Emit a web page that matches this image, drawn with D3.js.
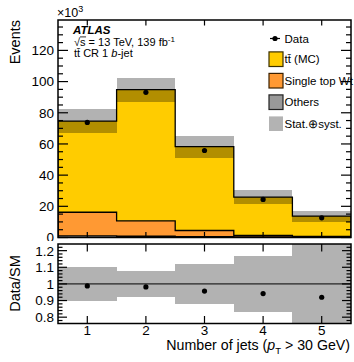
<!DOCTYPE html>
<html>
<head>
<meta charset="utf-8">
<script src="https://cdn.jsdelivr.net/npm/d3@7"></script>
<style>
  html, body { margin: 0; padding: 0; background: #fff; }
  svg { display: block; }
  text { font-family: "Liberation Sans", Arial, Helvetica, sans-serif; fill: #000; }
</style>
</head>
<body>
<svg id="chart" width="354" height="362"></svg>
<script>
// Jet multiplicity bins
const categories = [1, 2, 3, 4, 5];
// Stacked MC predictions (×10^3 events)
const others    = [1.0, 0.8, 0.6, 0.4, 0.3];
const singleTop = [15.2, 9.9, 3.9, 0.9, 0.4];
const ttbar     = [58.5, 84.1, 53.8, 24.6, 13.0];
// Observed data (×10^3 events)
const dataVals  = [73.8, 93.1, 55.8, 24.4, 12.6];
// Relative total uncertainty (stat ⊕ syst) of the prediction
const relUnc    = [0.10, 0.08, 0.12, 0.17, 0.26];
// Axis tick labels
const yTicksMain  = [0, 20, 40, 60, 80, 100, 120];
const yTicksRatio = [0.8, 0.9, 1, 1.1, 1.2];

const svg = d3.select("#chart");
const L = 58, R = 351;
const top1 = 20, bot1 = 237.5;
const top2 = 244, bot2 = 323.5;

const x  = d3.scaleLinear().domain([0.5, 5.5]).range([L, R]);
const y  = d3.scaleLinear().domain([0, 139.5]).range([bot1, top1]);
const yr = d3.scaleLinear().domain([0.762, 1.24]).range([bot2, top2]);

const total = categories.map((c, i) => others[i] + singleTop[i] + ttbar[i]);
const ratio = categories.map((c, i) => dataVals[i] / total[i]);

// cumulative layers
const layers = [
  { name: "others", vals: others, color: "#999999" },
  { name: "wt", vals: singleTop, color: "#ff9933" },
  { name: "tt", vals: ttbar, color: "#ffcc00" }
];
let base = categories.map(() => 0);
layers.forEach(l => {
  l.lo = base.slice();
  l.hi = base.map((b, i) => b + l.vals[i]);
  base = l.hi;
});

svg.append("clipPath").attr("id", "clipMain")
  .append("rect").attr("x", L).attr("y", top1).attr("width", R - L).attr("height", bot1 - top1);
svg.append("clipPath").attr("id", "clipRatio")
  .append("rect").attr("x", L).attr("y", top2).attr("width", R - L).attr("height", bot2 - top2);
// upper pad ends just above the ratio pad
svg.append("clipPath").attr("id", "clipUpperPad")
  .append("rect").attr("x", 0).attr("y", 0).attr("width", 354).attr("height", 241);

const gMain = svg.append("g").attr("clip-path", "url(#clipMain)");
const gRatio = svg.append("g").attr("clip-path", "url(#clipRatio)");

// stacked fills
layers.forEach(l => {
  gMain.selectAll(null).data(categories).enter().append("rect")
    .attr("x", d => x(d - 0.5))
    .attr("width", d => x(d + 0.5) - x(d - 0.5))
    .attr("y", (d, i) => y(l.hi[i]))
    .attr("height", (d, i) => y(l.lo[i]) - y(l.hi[i]))
    .attr("fill", l.color)
    .attr("shape-rendering", "crispEdges");
});

// uncertainty band on prediction
gMain.selectAll(null).data(categories).enter().append("rect")
  .attr("x", d => x(d - 0.5))
  .attr("width", d => x(d + 0.5) - x(d - 0.5))
  .attr("y", (d, i) => y(total[i] * (1 + relUnc[i])))
  .attr("height", (d, i) => y(total[i] * (1 - relUnc[i])) - y(total[i] * (1 + relUnc[i])))
  .attr("fill", "rgba(0,0,0,0.3)")
  .attr("shape-rendering", "crispEdges");

// step outlines for each stacked layer
function stepPath(vals, ys) {
  const p = d3.path();
  categories.forEach((c, i) => {
    const yy = ys(vals[i]);
    if (i === 0) { p.moveTo(x(c - 0.5), ys(0)); p.lineTo(x(c - 0.5), yy); }
    else p.lineTo(x(c - 0.5), yy);
    p.lineTo(x(c + 0.5), yy);
  });
  p.lineTo(x(categories[categories.length - 1] + 0.5), ys(0));
  return p.toString();
}
layers.forEach(l => {
  gMain.append("path").attr("d", stepPath(l.hi, y))
    .attr("fill", "none").attr("stroke", "#000").attr("stroke-width", 1.3);
});

// data points
gMain.selectAll(null).data(categories).enter().append("circle")
  .attr("cx", d => x(d)).attr("cy", (d, i) => y(dataVals[i])).attr("r", 2.6).attr("fill", "#000");

// ratio band
gRatio.selectAll(null).data(categories).enter().append("rect")
  .attr("x", d => x(d - 0.5))
  .attr("width", d => x(d + 0.5) - x(d - 0.5))
  .attr("y", (d, i) => yr(1 + relUnc[i]))
  .attr("height", (d, i) => yr(1 - relUnc[i]) - yr(1 + relUnc[i]))
  .attr("fill", "rgba(0,0,0,0.3)")
  .attr("shape-rendering", "crispEdges");
gRatio.append("line").attr("x1", L).attr("x2", R).attr("y1", yr(1)).attr("y2", yr(1))
  .attr("stroke", "#000").attr("stroke-width", 1);
gRatio.selectAll(null).data(categories).enter().append("circle")
  .attr("cx", d => x(d)).attr("cy", (d, i) => yr(ratio[i])).attr("r", 2.6).attr("fill", "#000");

// frames and ticks
function frame(t, b) {
  svg.append("rect").attr("x", L).attr("y", t).attr("width", R - L).attr("height", b - t)
    .attr("fill", "none").attr("stroke", "#000").attr("stroke-width", 1.5);
}
frame(top1, bot1);
frame(top2, bot2);

const tickG = svg.append("g").attr("stroke", "#000").attr("stroke-width", 1.2);
function yTicks(scale, majors, minors, majLen, minLen) {
  majors.forEach(v => {
    const yy = scale(v);
    tickG.append("line").attr("x1", L).attr("x2", L + majLen).attr("y1", yy).attr("y2", yy);
    tickG.append("line").attr("x1", R).attr("x2", R - majLen).attr("y1", yy).attr("y2", yy);
  });
  minors.forEach(v => {
    const yy = scale(v);
    tickG.append("line").attr("x1", L).attr("x2", L + minLen).attr("y1", yy).attr("y2", yy);
    tickG.append("line").attr("x1", R).attr("x2", R - minLen).attr("y1", yy).attr("y2", yy);
  });
}
const minorMain = d3.range(0, 140, 5).filter(v => v % 20 !== 0);
yTicks(y, yTicksMain, minorMain, 10, 5);
const minorRatio = d3.range(0.78, 1.24, 0.02).map(v => +v.toFixed(2))
  .filter(v => !yTicksRatio.some(m => Math.abs(m - v) < 1e-6));
yTicks(yr, yTicksRatio, minorRatio, 9, 4.5);

function xTicks(t, b, len) {
  categories.forEach(c => {
    tickG.append("line").attr("x1", x(c)).attr("x2", x(c)).attr("y1", t).attr("y2", t + len);
    tickG.append("line").attr("x1", x(c)).attr("x2", x(c)).attr("y1", b).attr("y2", b - len);
  });
}
xTicks(top1, bot1, 5.5);
xTicks(top2, bot2, 7.5);

// tick labels (upper pad labels are cut at the pad boundary)
svg.append("g").attr("clip-path", "url(#clipUpperPad)")
  .selectAll(null).data(yTicksMain).enter().append("text")
  .attr("x", 54).attr("y", d => y(d)).attr("dy", "0.36em")
  .attr("text-anchor", "end").attr("font-size", 13.5).text(d => d);
svg.selectAll(null).data(yTicksRatio).enter().append("text")
  .attr("x", 54).attr("y", d => yr(d)).attr("dy", "0.36em")
  .attr("text-anchor", "end").attr("font-size", 13.5).text(d => d);
svg.selectAll(null).data(categories).enter().append("text")
  .attr("x", d => x(d)).attr("y", 334.5)
  .attr("text-anchor", "middle").attr("font-size", 13.5).text(d => d);

// axis titles
svg.append("text").attr("transform", "translate(19.5,20) rotate(-90)")
  .attr("text-anchor", "end").attr("font-size", 14.5).text("Events");
svg.append("text").attr("transform", "translate(19.5,283.5) rotate(-90)")
  .attr("text-anchor", "middle").attr("font-size", 14.5).text("Data/SM");
const xt = svg.append("text").attr("x", 350).attr("y", 350)
  .attr("text-anchor", "end").attr("font-size", 14.2);
xt.append("tspan").text("Number of jets (");
xt.append("tspan").attr("font-style", "italic").text("p");
xt.append("tspan").attr("font-size", 9.5).attr("dy", 4).text("T");
xt.append("tspan").attr("dy", -4).text(" > 30 GeV)");

// exponent
const ex = svg.append("text").attr("x", 57).attr("y", 17).attr("font-size", 12.5);
ex.append("tspan").text("×10");
ex.append("tspan").attr("font-size", 9).attr("dy", -5).text("3");

// ATLAS label
svg.append("text").attr("x", 73).attr("y", 34).attr("font-size", 11.5)
  .attr("font-weight", "bold").attr("font-style", "italic").text("ATLAS");
const l2 = svg.append("text").attr("x", 74).attr("y", 45.5).attr("font-size", 11);
l2.append("tspan").text("√s = 13 TeV, 139 fb");
l2.append("tspan").attr("font-size", 8).attr("dy", -4).text("-1");
// radical overbar
const sqrtTxt = l2.node();
const bar0 = sqrtTxt.getStartPositionOfChar(1).x, bar1 = sqrtTxt.getEndPositionOfChar(1).x;
svg.append("line").attr("x1", bar0).attr("x2", bar1 + 0.5).attr("y1", 45.5 - 8.6).attr("y2", 45.5 - 8.6)
  .attr("stroke", "#000").attr("stroke-width", 0.8);
const l3 = svg.append("text").attr("x", 74).attr("y", 57.3).attr("font-size", 11);
l3.append("tspan").text("tt\u0304 CR 1 ");
l3.append("tspan").attr("font-style", "italic").text("b");
l3.append("tspan").text("-jet");

// legend
const lgX = 269, lgText = 284.5;
const lg = svg.append("g");
lg.append("line").attr("x1", 270).attr("x2", 280).attr("y1", 38.5).attr("y2", 38.5)
  .attr("stroke", "#000").attr("stroke-width", 1.2);
lg.append("circle").attr("cx", 275).attr("cy", 38.5).attr("r", 2.6).attr("fill", "#000");
lg.append("text").attr("x", lgText).attr("y", 38.5).attr("dy", "0.36em").attr("font-size", 11.5).text("Data");
const legendItems = [
  { label: "tt\u0304 (MC)", fill: "#ffcc00", stroke: "#3a3000" },
  { label: "Single top Wt", fill: "#ff9933", stroke: "#3a2000" },
  { label: "Others", fill: "#999999", stroke: "#222" },
  { label: "Stat.\u2295syst.", fill: "#b3b3b3", stroke: "none" }
];
legendItems.forEach((it, i) => {
  const cy = 59.2 + i * 21.5;
  lg.append("rect").attr("x", lgX).attr("y", cy - 7.3).attr("width", 14).attr("height", 14.6)
    .attr("fill", it.fill).attr("stroke", it.stroke).attr("stroke-width", it.stroke === "none" ? 0 : 1.2);
  lg.append("text").attr("x", lgText).attr("y", cy).attr("dy", "0.36em").attr("font-size", 11.5).text(it.label);
});
</script>
</body>
</html>
